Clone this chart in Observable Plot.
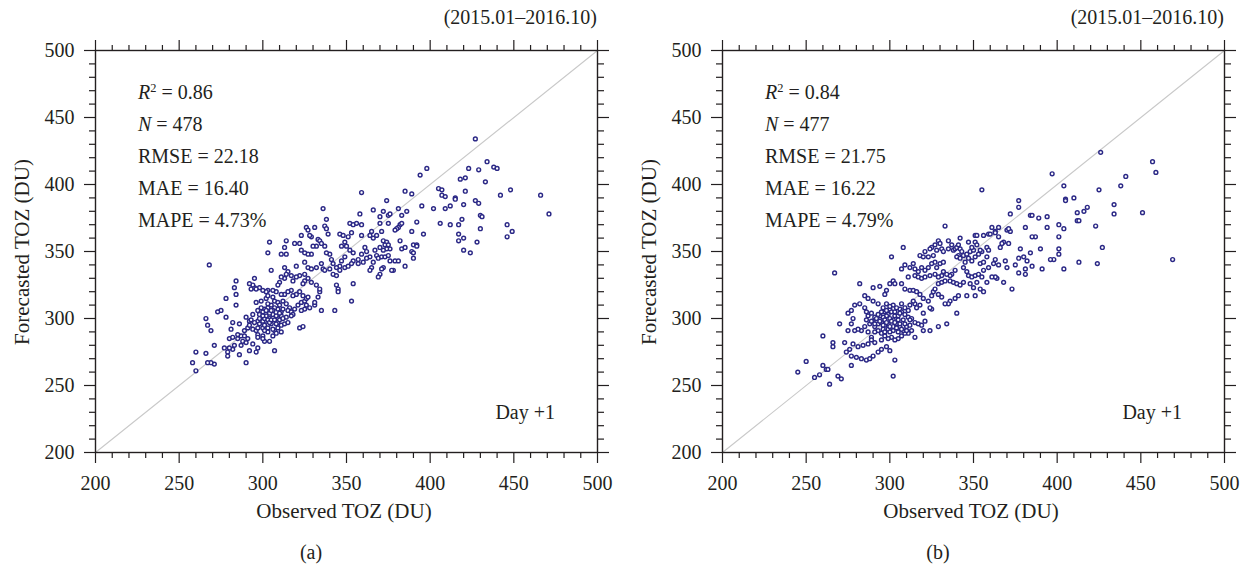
<!DOCTYPE html>
<html>
<head>
<meta charset="utf-8">
<script src="https://cdn.jsdelivr.net/npm/d3@7"></script>
<script src="https://cdn.jsdelivr.net/npm/@observablehq/plot@0.6"></script>
<style>
  html, body { margin: 0; padding: 0; background: #ffffff; }
  #root { position: relative; width: 1250px; height: 564px; font-family: "Liberation Serif", "DejaVu Serif", serif; color: #231f20; }
  .panel { position: absolute; top: 0; width: 625px; height: 564px; }
  .panel svg { position: absolute; left: 0; top: 0; }
  .hdr { position: absolute; right: 28px; top: 5px; font-size: 20px; line-height: 24px; white-space: nowrap; }
  .stats { position: absolute; left: 138px; top: 76px; font-size: 20px; line-height: 32px; white-space: nowrap; }
  .stats sup { font-size: 0.62em; vertical-align: 0.6em; line-height: 0; }
  .day { position: absolute; right: 70px; top: 400px; font-size: 20px; line-height: 24px; white-space: nowrap; }
  .xt { position: absolute; left: 0; width: 688px; top: 499px; text-align: center; font-size: 21px; line-height: 24px; white-space: nowrap; }
  .yt { position: absolute; left: 22px; top: 252px; transform: translate(-50%, -50%) rotate(-90deg); font-size: 21px; line-height: 24px; white-space: nowrap; }
  .cap { position: absolute; left: 0; width: 622px; top: 540px; text-align: center; font-size: 20px; line-height: 24px; }
</style>
</head>
<body>
<div id="root"></div>
<script>
// ---------- data ----------
const period = "(2015.01–2016.10)";
const panelTags = ["(a)", "(b)"];
const leadLabel = "Day +1";
const xTitle = "Observed TOZ (DU)";
const yTitle = "Forecasted TOZ (DU)";

const statsA = { r2: "0.86", n: "478", rmse: "22.18", mae: "16.40", mape: "4.73%" };
const statsB = { r2: "0.84", n: "477", rmse: "21.75", mae: "16.22", mape: "4.79%" };

const axisDomain = [200, 500];
const majorTicks = [200, 250, 300, 350, 400, 450, 500];
const minorTicks = [210, 220, 230, 240, 260, 270, 280, 290, 310, 320, 330, 340, 360, 370, 380, 390, 410, 420, 430, 440, 460, 470, 480, 490];

// [observed, forecasted] pairs, panel (a)
const pointsA = [
[326,368],[331,368],[337,369],[338,367],[339,363],[333,359],[334,358],[329,361],[327,366],[328,362],
[352,371],[354,370],[356,371],[359,370],[346,363],[348,362],[351,361],[353,364],[359,362],[349,357],
[347,354],[350,354],[352,351],[354,349],[359,348],[357,344],[354,343],[349,346],[347,343],[346,339],
[344,338],[342,341],[341,344],[340,348],[338,349],[337,354],[335,356],[332,354],[330,354],[329,348],
[327,348],[325,349],[323,351],[322,356],[323,362],[319,356],[314,358],[313,353],[314,348],[311,348],
[304,357],[303,349],[305,336],[313,338],[320,339],[325,342],[327,338],[329,337],[332,338],[335,341],
[336,337],[337,336],[340,337],[342,333],[344,332],[346,336],[349,338],[351,339],[353,341],[357,341],
[360,342],[344,325],[345,322],[345,320],[354,326],[353,313],[343,306],[335,306],[331,310],[331,312],
[333,316],[334,320],[334,322],[332,325],[329,327],[327,330],[325,328],[324,326],[325,333],[322,332],
[320,331],[318,328],[317,332],[315,335],[314,333],[313,330],[311,331],[310,327],[309,325],[308,320],
[306,321],[303,321],[302,320],[300,321],[298,323],[295,323],[294,325],[292,326],[293,322],[295,330],
[296,322],[284,328],[283,323],[284,318],[278,315],[284,310],[275,306],[273,305],[278,301],[282,297],
[286,296],[281,292],[269,291],[266,300],[268,340],[280,285],[282,286],[285,285],[287,287],[289,291],
[291,293],[292,298],[290,301],[294,303],[297,306],[296,312],[299,313],[302,315],[303,317],[306,316],
[307,313],[309,312],[312,313],[314,311],[316,308],[315,306],[317,305],[318,303],[319,307],[321,310],
[323,312],[325,313],[326,315],[327,316],[324,317],[322,320],[320,318],[318,317],[317,321],[315,320],
[313,318],[311,318],[310,310],[309,307],[307,308],[305,310],[303,308],[301,307],[300,305],[298,303],
[299,300],[297,298],[295,297],[293,299],[292,295],[294,292],[296,291],[297,288],[300,293],[301,295],
[302,298],[304,300],[306,301],[305,296],[303,293],[303,290],[300,287],[301,283],[304,283],[306,287],
[307,291],[309,293],[311,295],[313,296],[315,297],[314,301],[311,302],[309,300],[317,302],[322,293],
[324,294],[325,307],[323,306],[326,310],[328,308],[288,283],[287,280],[283,280],[282,277],[280,278],
[277,278],[279,275],[279,272],[271,280],[267,295],[286,273],[292,276],[296,275],[297,278],[294,281],
[290,282],[291,285],[307,276],[290,267],[271,266],[269,267],[267,267],[297,286],[300,285],[289,287],
[285,288],
[298,296],[300,298],[301,300],[302,302],[303,299],[304,297],[305,299],[306,303],[307,299],[308,302],
[309,297],[310,299],[311,305],[312,300],[304,304],[302,306],[300,302],[298,300],[306,306],[308,296],
[310,304],[299,308],[305,306],[312,307],[303,311],[297,293],[301,291],[306,292],[308,289],[311,290],
[427,434],[398,412],[394,407],[434,417],[438,413],[440,412],[423,412],[429,411],[421,405],[418,404],
[433,402],[405,397],[407,396],[407,392],[409,391],[421,395],[427,388],[429,386],[448,396],[442,392],
[466,392],[471,378],[402,382],[409,382],[412,384],[415,390],[415,389],[420,385],[419,374],[406,371],
[412,370],[417,370],[430,377],[431,376],[430,367],[417,363],[417,358],[420,360],[428,357],[420,351],
[424,349],[446,370],[446,361],[449,365],[395,384],[392,372],[389,393],[385,395],[386,380],[381,382],
[396,363],[389,365],[390,355],[392,355],[392,354],[389,350],[390,349],[390,345],[385,339],[383,352],
[385,353],[382,358],[382,370],[383,371],[383,377],[381,368],[380,367],[379,366],[374,388],[375,377],
[376,378],[372,380],[366,381],[370,376],[370,371],[375,371],[379,343],[378,336],[381,343],[359,394],
[358,378],[336,382],[338,374],[260,275],[258,267],[260,261],[266,274],
[365,365],[364,362],[366,360],[368,362],[371,365],[372,358],[374,357],[373,355],[375,355],[376,352],
[374,352],[372,351],[370,353],[367,351],[368,347],[369,345],[371,346],[373,346],[375,347],[376,343],
[372,338],[371,337],[370,333],[369,331],[377,336],[365,338],[364,336],[366,342],[364,346],[362,345],
[361,353],[362,350]
];

// [observed, forecasted] pairs, panel (b)
const pointsB = [
[333,369],[342,360],[347,357],[351,357],[356,362],[358,353],[359,351],[335,358],[337,355],[329,358],
[330,356],[327,355],[325,353],[324,352],[321,350],[318,347],[320,346],[323,346],[326,347],[328,351],
[331,352],[332,350],[335,352],[338,351],[339,352],[340,353],[341,355],[342,352],[343,350],[341,347],
[340,346],[342,345],[344,347],[346,348],[348,350],[350,351],[349,353],[352,355],[353,348],[351,346],
[349,343],[347,345],[345,342],[344,338],[346,335],[347,332],[349,331],[351,332],[353,333],[355,331],
[356,336],[354,341],[356,342],[359,338],[358,346],[355,350],[339,336],[337,333],[336,332],[334,333],
[332,335],[331,332],[329,331],[327,333],[328,338],[330,341],[332,342],[327,342],[325,341],[323,338],
[321,336],[319,338],[317,335],[315,337],[314,341],[312,338],[309,340],[307,337],[311,331],[315,332],
[317,331],[319,330],[321,331],[324,332],[308,353],[301,346],[282,326],[290,323],[294,324],[302,328],
[303,326],[307,326],[309,322],[312,321],[314,321],[316,320],[318,318],[320,315],[323,313],[325,317],
[326,320],[327,322],[329,326],[331,327],[333,328],[336,328],[338,327],[340,326],[342,325],[344,327],
[348,326],[350,323],[352,327],[351,317],[346,317],[341,317],[339,315],[336,313],[335,311],[333,311],
[331,316],[329,318],[325,307],[324,308],[320,304],[318,310],[316,308],[315,311],[314,313],[312,310],
[309,308],[307,311],[306,307],[304,308],[302,310],[300,307],[298,311],[296,308],[297,305],[299,303],
[301,305],[303,302],[305,302],[307,305],[309,303],[311,301],[313,300],[315,297],[317,296],[319,295],
[320,291],[321,298],[315,286],[313,291],[311,289],[309,289],[307,287],[305,285],[303,284],[301,286],
[299,285],[297,287],[295,289],[293,291],[291,290],[289,286],[287,290],[285,294],[283,291],[281,292],
[279,291],[277,296],[278,300],[275,304],[277,306],[279,310],[282,311],[285,308],[286,305],[287,302],
[289,304],[291,301],[293,296],[295,297],[297,295],[299,296],[302,294],[304,296],[306,294],[308,291],
[310,294],[312,295],[302,299],[300,300],[298,302],[296,301],[294,302],[287,315],[290,313],[293,311],
[285,317],[297,318],[298,321],[300,326],[295,284],[291,282],[287,281],[284,280],[281,279],[278,281],
[276,277],[274,275],[277,272],[280,271],[283,270],[286,269],[288,270],[290,272],[293,275],[295,277],
[298,279],[300,276],[289,284],[273,282],[270,296],[275,291],[303,269],[277,265],[334,296],[340,304],
[329,294],[324,291],[354,322],[356,320],[358,327],[267,334],
[288,296],[290,298],[291,294],[292,300],[294,298],[296,295],[297,299],[298,297],[299,292],[300,294],
[301,298],[302,291],[303,297],[304,293],[305,299],[306,296],[307,292],[308,299],[309,296],[310,291],
[296,292],[293,303],[295,305],[298,306],[300,309],[303,305],[306,304],[289,298],[291,296],[305,290],
[300,290],[297,290],[312,299],[311,306],[286,299],
[426,424],[457,417],[459,409],[441,406],[438,399],[425,396],[434,385],[434,378],[451,379],[469,344],
[427,353],[424,341],[423,369],[418,383],[416,380],[412,379],[412,373],[413,373],[410,390],[404,399],
[405,389],[405,388],[404,367],[401,370],[401,361],[401,352],[401,348],[404,337],[413,342],[398,344],
[396,344],[397,408],[394,376],[389,375],[394,368],[390,352],[391,337],[385,339],[387,361],[385,361],
[384,377],[385,377],[377,388],[377,383],[372,378],[381,368],[384,349],[382,343],[381,337],[381,333],
[378,352],[380,346],[377,345],[375,340],[377,334],[373,322],[369,343],[370,338],[371,356],[372,365],
[370,366],[371,367],[365,368],[361,368],[368,357],[367,356],[366,353],[365,340],[363,344],[368,327],
[364,330],[355,396],[359,363],[360,363],[363,365],[351,362],[352,362],[354,351],
[245,260],[250,268],[255,256],[258,258],[260,265],[262,262],[263,262],[264,251],[260,287],[266,282],
[266,279],[269,257],[271,255],[302,257],
[363,364],[365,361],[363,331],[361,331],[362,341]
];

// ---------- drawing ----------
const ink = "#231f20";
const dotColor = "#2b2886";
const blank = () => "";

function makePlot(points) {
  return Plot.plot({
    width: 625,
    height: 530,
    marginLeft: 95,
    marginRight: 28,
    marginTop: 50,
    marginBottom: 78,
    x: { domain: axisDomain, label: null },
    y: { domain: axisDomain, label: null },
    style: { fontFamily: "'Liberation Serif', 'DejaVu Serif', serif", fontSize: "20px", color: ink, background: "white", overflow: "visible" },
    marks: [
      Plot.line(axisDomain, { x: d => d, y: d => d, stroke: "#c9c9c9", strokeWidth: 1.1 }),
      Plot.dot(points, { x: d => d[0], y: d => d[1], r: 1.9, stroke: dotColor, strokeWidth: 1.45, fill: "white" }),
      Plot.axisX(minorTicks, { anchor: "bottom", tickSize: 6, tickFormat: blank, label: null, strokeWidth: 1.2 }),
      Plot.axisX(majorTicks, { anchor: "bottom", tickSize: 11, tickPadding: 12, label: null, strokeWidth: 1.2, fontSize: 20 }),
      Plot.axisX(minorTicks, { anchor: "top", tickSize: 6, tickFormat: blank, label: null, strokeWidth: 1.2 }),
      Plot.axisX(majorTicks, { anchor: "top", tickSize: 11, tickFormat: blank, label: null, strokeWidth: 1.2 }),
      Plot.axisY(minorTicks, { anchor: "left", tickSize: 6, tickFormat: blank, label: null, strokeWidth: 1.2 }),
      Plot.axisY(majorTicks, { anchor: "left", tickSize: 11, tickPadding: 10, label: null, strokeWidth: 1.2, fontSize: 20 }),
      Plot.axisY(minorTicks, { anchor: "right", tickSize: 6, tickFormat: blank, label: null, strokeWidth: 1.2 }),
      Plot.axisY(majorTicks, { anchor: "right", tickSize: 11, tickFormat: blank, label: null, strokeWidth: 1.2 }),
      Plot.frame({ stroke: ink, strokeWidth: 1.4 })
    ]
  });
}

function addText(parent, cls, html) {
  const el = document.createElement("div");
  el.className = cls;
  el.innerHTML = html;
  parent.appendChild(el);
  return el;
}

function makePanel(left, points, stats, tag) {
  const panel = document.createElement("div");
  panel.className = "panel";
  panel.style.left = left + "px";
  panel.appendChild(makePlot(points));
  addText(panel, "hdr", period);
  addText(panel, "stats",
    `<i>R</i><sup>2</sup> = ${stats.r2}<br>` +
    `<i>N</i> = ${stats.n}<br>` +
    `RMSE = ${stats.rmse}<br>` +
    `MAE = ${stats.mae}<br>` +
    `MAPE = ${stats.mape}`);
  addText(panel, "day", leadLabel);
  addText(panel, "xt", xTitle);
  addText(panel, "yt", yTitle);
  addText(panel, "cap", tag);
  document.getElementById("root").appendChild(panel);
}

makePanel(0, pointsA, statsA, panelTags[0]);
makePanel(627, pointsB, statsB, panelTags[1]);
</script>
</body>
</html>
